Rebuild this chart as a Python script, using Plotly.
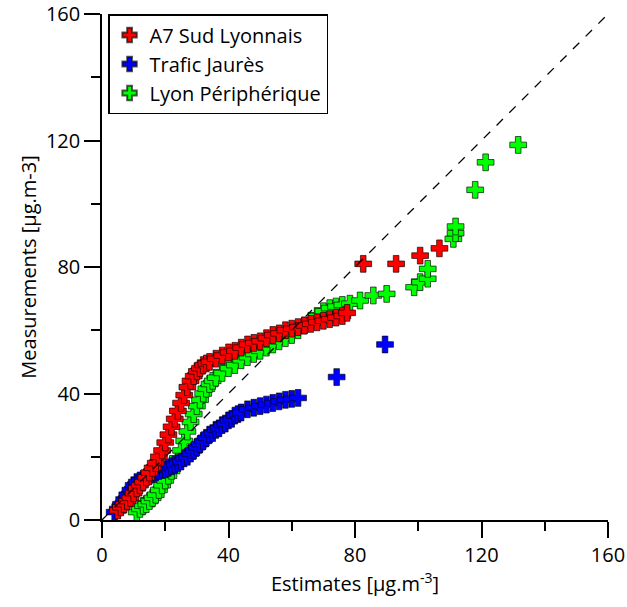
import plotly.graph_objects as go

# ---- data ----
red_name = "A7 Sud Lyonnais"
red_est = [5, 6, 7, 8, 9, 10, 11, 12, 13, 14, 15, 16, 17, 18, 19, 20, 21, 22, 23, 24, 25, 26, 27, 28, 29, 30,
           31, 32, 33, 34, 36, 38, 40, 42, 44, 46, 48, 50, 52, 54, 56, 58, 60, 62, 64, 66, 68, 70, 72, 74, 76,
           77.5, 82.6, 93, 100.6, 106.7]
red_meas = [3, 4, 5, 6, 7, 8.5, 10, 11, 12, 13.5, 15, 16.5, 18, 20, 22, 24.5, 27, 29.5, 32, 34.5, 37, 39.5, 42,
            44, 45.5, 47, 48, 49, 49.5, 50, 51, 52, 53, 53.5, 54.5, 55.5, 56, 56.5, 57.5, 58.5, 59, 60, 60.5,
            61, 61.5, 62, 62.5, 63, 63.5, 64, 64.5, 65.5, 81, 81, 83.6, 85.9]

blue_name = "Trafic Jaurès"
blue_est = [4, 5, 6, 7, 8, 9, 10, 11, 12, 13, 14, 15, 16, 17, 18, 19, 20, 21, 22, 23, 24, 25, 26, 27, 28, 29,
            30, 31, 32, 33, 34, 35, 36, 37, 38, 39, 40, 41, 42, 43, 44, 46, 48, 50, 52, 54, 56, 58, 60, 62,
            74.2, 89.5]
blue_meas = [2.5, 3.5, 5, 6.5, 8, 9.5, 11, 12, 12.5, 13, 13.5, 14, 14.5, 15, 15.5, 16, 16, 16.5, 17, 17.5, 18,
             18.5, 19.5, 20, 21, 22, 23, 24, 25, 26, 27, 27.5, 28.5, 29, 30, 30.5, 31.5, 32, 33, 33.5, 34, 35,
             35.5, 36, 36.5, 37, 37.5, 38, 38.3, 38.6, 45.2, 55.5]

green_name = "Lyon Périphérique"
green_est = [11, 12, 13, 14, 15, 16, 17, 18, 19, 20, 21, 22, 23, 24, 25, 26, 27, 28, 29, 30, 31, 32, 33, 34,
             35, 36, 38, 40, 42, 44, 46, 48, 50, 52, 54, 56, 58, 60, 62, 64, 66, 68, 70, 72, 74, 76, 78.4,
             81.6, 85.8, 90, 98.7, 100.6, 103, 103, 111.1, 111.8, 111.8, 118, 121.3, 131.6]
green_meas = [2.5, 3.5, 4.5, 5, 6, 7, 8, 9.5, 11, 12.5, 14, 15.5, 17.5, 19.5, 22, 25, 28, 31, 33.5, 36, 38, 40,
              41.5, 43, 44, 45, 46.5, 48, 49, 50.5, 51.5, 52.5, 53.5, 54.5, 55.5, 56.5, 57.5, 58.5, 60, 61.5,
              63, 64.5, 66, 67, 67.5, 68, 68.4, 69.4, 71, 71.5, 73.6, 75.2, 76.3, 79.4, 88.9, 90.7, 92.8,
              104.4, 113.1, 118.6]

diag = [0, 160]
x_ticks = [0, 40, 80, 120, 160]
y_ticks = [0, 40, 80, 120, 160]
minor_ticks = [20, 60, 100, 140]

FONT = "'Open Sans', sans-serif"
FS = 20

fig = go.Figure()

def add_series(xs, ys, name, color, rank):
    fig.add_trace(go.Scatter(
        x=xs, y=ys, mode="markers", name=name, legendrank=rank, legendgroup=name,
        marker=dict(symbol="cross", size=14, color=color,
                    line=dict(color="rgba(0,0,0,0.65)", width=1)),
    ))

add_series(green_est, green_meas, green_name, "#00ff00", 3)
add_series(blue_est, blue_meas, blue_name, "#0000ff", 2)
add_series(red_est, red_meas, red_name, "#ff0000", 1)

fig.add_trace(go.Scatter(x=diag, y=diag, mode="lines", showlegend=False,
                         line=dict(color="black", width=1.3, dash="dash"), hoverinfo="skip"))

axis_common = dict(
    range=[0, 160], showgrid=False, zeroline=False, automargin=False,
    showline=True, linecolor="black", linewidth=1.5,
    ticks="outside", ticklen=16, tickwidth=1.5, tickcolor="black",
    tickfont=dict(family=FONT, size=FS, color="black"),
    minor=dict(ticks="outside", ticklen=9, tickwidth=1.5, tickcolor="black",
               tickvals=minor_ticks, showgrid=False),
)

fig.update_xaxes(**axis_common, tickvals=x_ticks,
                 title=dict(text="Estimates [µg.m<sup>-3</sup>]",
                            font=dict(family=FONT, size=FS, color="black"), standoff=2))
fig.update_yaxes(**axis_common, tickvals=y_ticks,
                 title=dict(text="Measurements [µg.m-3]",
                            font=dict(family=FONT, size=FS, color="black"), standoff=4))

fig.update_layout(
    width=627, height=607,
    margin=dict(l=102, r=19, t=14, b=87),
    plot_bgcolor="white", paper_bgcolor="white",
    font=dict(family=FONT, size=FS, color="black"),
    legend=dict(x=0.012, y=1.0, xanchor="left", yanchor="top",
                bgcolor="white", bordercolor="black", borderwidth=1.5,
                font=dict(family=FONT, size=FS, color="black"),
                tracegroupgap=0, itemsizing="constant"),
)

fig.write_html("out.html")
